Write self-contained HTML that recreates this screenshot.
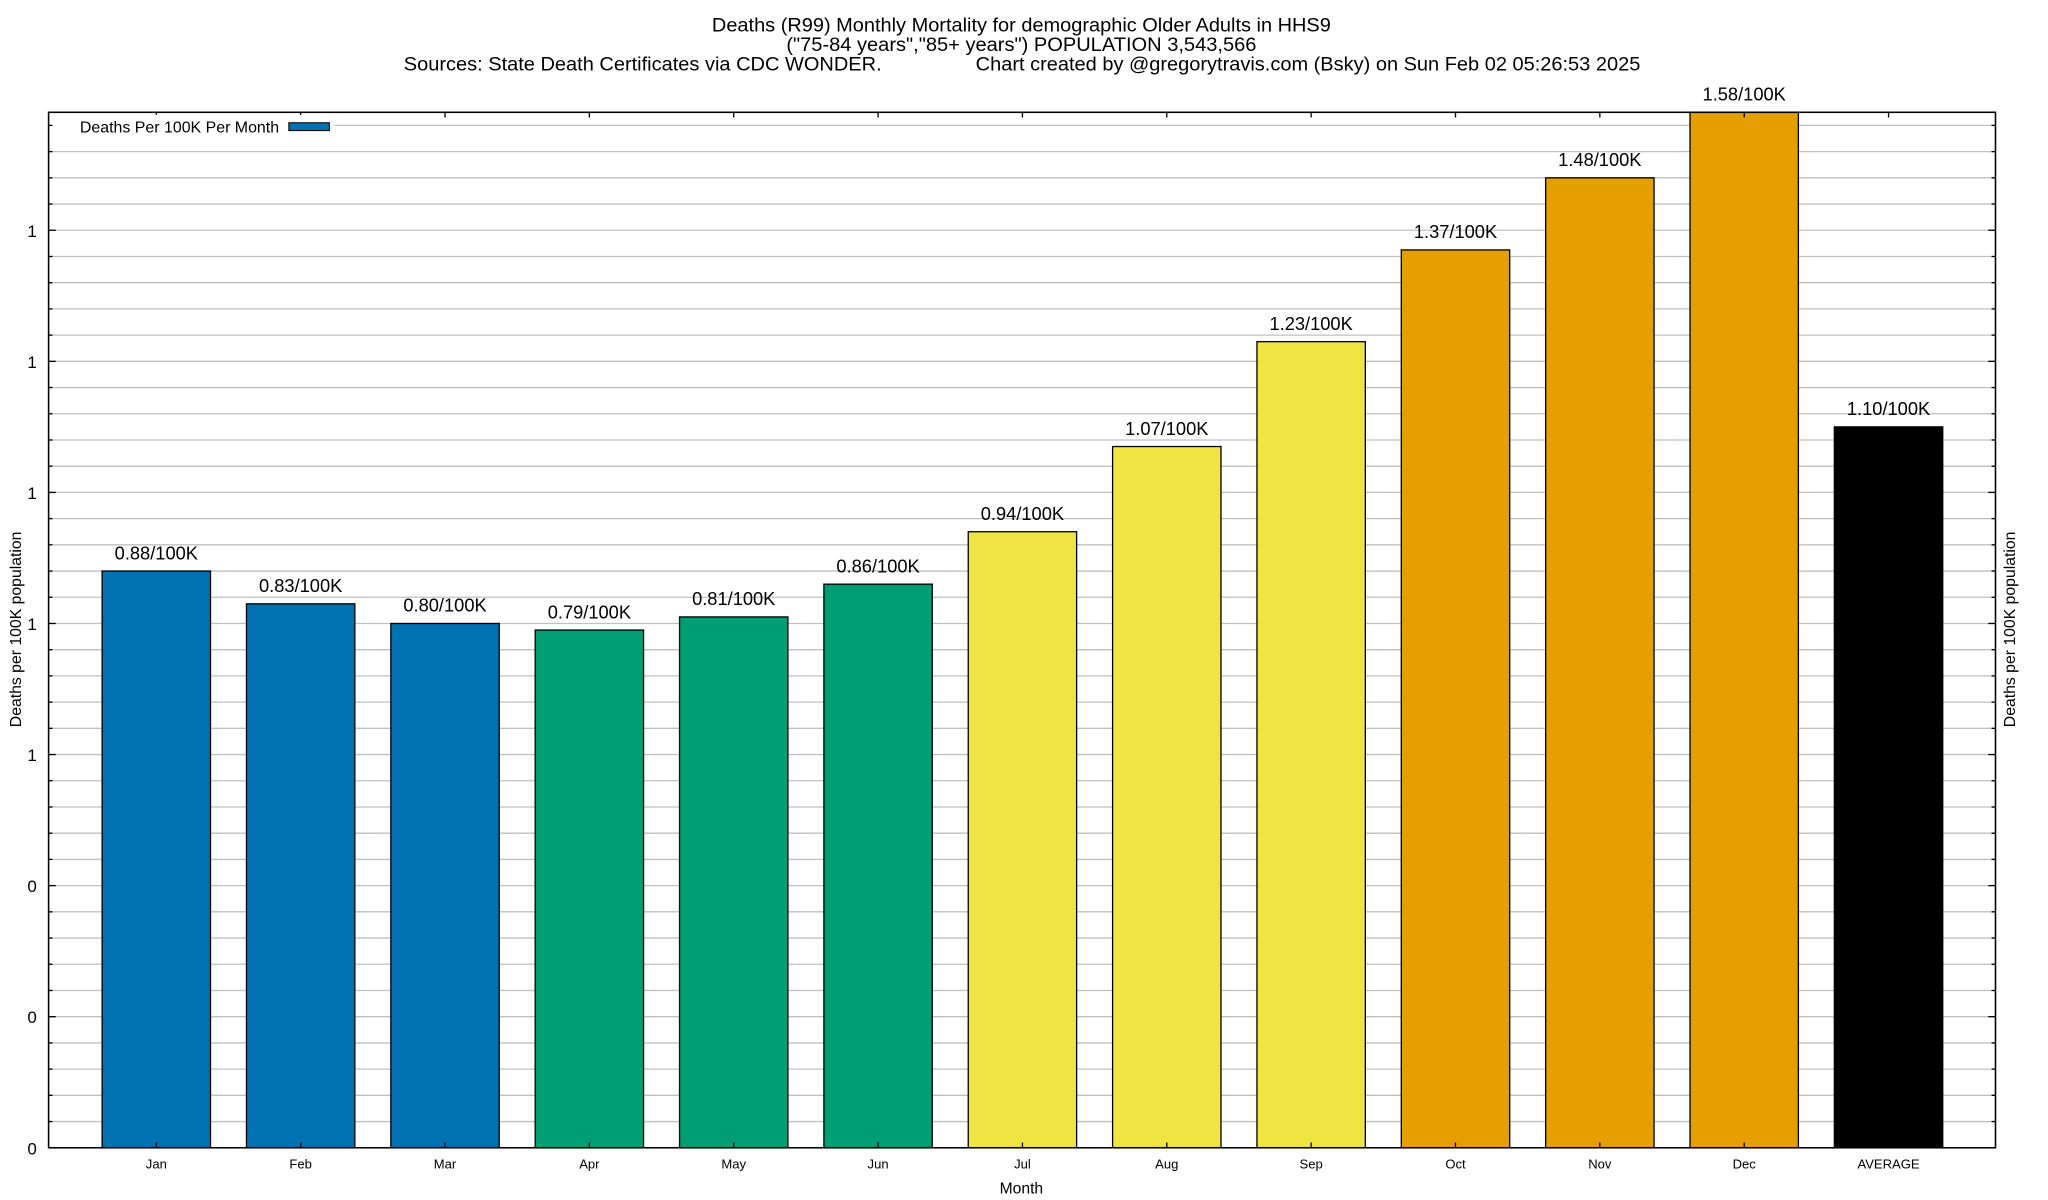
<!DOCTYPE html>
<html>
<head>
<meta charset="utf-8">
<style>
html,body{margin:0;padding:0;background:#fff;}
svg{display:block;}
text{font-family:"Liberation Sans",Arial,sans-serif;fill:#000;}
</style>
</head>
<body>
<svg id="chart" width="2048" height="1200" viewBox="0 0 1568 919" xmlns="http://www.w3.org/2000/svg">
  <rect x="0" y="0" width="1568" height="919" fill="#fff"/>
  <text x="782" y="24" font-size="14.5" text-anchor="middle" textLength="474" lengthAdjust="spacingAndGlyphs">Deaths (R99) Monthly Mortality for demographic Older Adults in HHS9</text>
  <text x="782" y="39" font-size="14.5" text-anchor="middle" textLength="360" lengthAdjust="spacingAndGlyphs">("75-84 years","85+ years") POPULATION 3,543,566</text>
  <text x="309" y="54" font-size="14.5" textLength="366" lengthAdjust="spacingAndGlyphs">Sources: State Death Certificates via CDC WONDER.</text>
  <text x="747" y="54" font-size="14.5" textLength="509" lengthAdjust="spacingAndGlyphs">Chart created by @gregorytravis.com (Bsky) on Sun Feb 02 05:26:53 2025</text>
  <g id="grid"></g>
  <g id="bars"></g>
  <g id="axes"></g>
  <g>
    <rect x="40" y="88" width="216" height="17" fill="#fff"/>
    <text x="61" y="101.5" font-size="12.2">Deaths Per 100K Per Month</text>
    <rect x="221" y="94" width="31" height="6" fill="#0072b2" stroke="#000" stroke-width="0.8"/>
  </g>
  <text x="782" y="914" font-size="12" text-anchor="middle">Month</text>
  <text transform="translate(16,482) rotate(-90)" font-size="12.1" text-anchor="middle">Deaths per 100K population</text>
  <text transform="translate(1543,482) rotate(-90)" font-size="12.1" text-anchor="middle">Deaths per 100K population</text>
</svg>
<script>
const categories = ["Jan","Feb","Mar","Apr","May","Jun","Jul","Aug","Sep","Oct","Nov","Dec","AVERAGE"];
const values = [0.88,0.83,0.80,0.79,0.81,0.86,0.94,1.07,1.23,1.37,1.48,1.58,1.10];
const valueLabels = ["0.88/100K","0.83/100K","0.80/100K","0.79/100K","0.81/100K","0.86/100K","0.94/100K","1.07/100K","1.23/100K","1.37/100K","1.48/100K","1.58/100K","1.10/100K"];
const barColors = ["#0072b2","#0072b2","#0072b2","#009e73","#009e73","#009e73","#f0e442","#f0e442","#f0e442","#e69f00","#e69f00","#e69f00","#000000"];
const yMajorTicks = [0,0.2,0.4,0.6,0.8,1.0,1.2,1.4];
const yTickLabels = ["0","0","0","1","1","1","1","1"];

const NS = "http://www.w3.org/2000/svg";
const L = 37, R = 1528, T = 86, B = 879;
const yMax = 1.58;
function yScale(v){ return B - v / yMax * (B - T); }
const step = 110.55, x0 = 119.5;
function xScale(i){ return x0 + i * step; }
const barW = 83;

function mk(tag, attrs, parent){
  const e = document.createElementNS(NS, tag);
  for (const k in attrs) e.setAttribute(k, attrs[k]);
  parent.appendChild(e);
  return e;
}
const grid = document.getElementById('grid');
const bars = document.getElementById('bars');
const axes = document.getElementById('axes');

for (let k = 1; k * 0.04 < yMax; k++) {
  const y = yScale(k * 0.04);
  const ln = mk('line', {x1:L, x2:R, y1:y, y2:y, stroke:'#c0c0c0', 'stroke-width':1}, grid);
  
  
  const major = Math.abs((k*0.04)/0.2 - Math.round((k*0.04)/0.2)) < 1e-6;
  const len = major ? 5.5 : 3;
  mk('line', {x1:L, x2:L+len, y1:y, y2:y, stroke:'#000', 'stroke-width':1}, axes);
  mk('line', {x1:R, x2:R-len, y1:y, y2:y, stroke:'#000', 'stroke-width':1}, axes);
}

values.forEach((v, i) => {
  const cx = xScale(i);
  const y = yScale(v);
  const r = mk('rect', {x:cx - barW/2, y:y, width:barW, height:B - y, fill:barColors[i], stroke:'#000', 'stroke-width':1}, bars);
  
  
  const t = mk('text', {x:cx, y:y - 9, 'font-size':14, 'text-anchor':'middle'}, bars);
  t.textContent = valueLabels[i];
  
  
  const xl = mk('text', {x:cx, y:895, 'font-size':10, 'text-anchor':'middle'}, axes);
  xl.textContent = categories[i];
  
  
  mk('line', {x1:cx, x2:cx, y1:T, y2:T+4, stroke:'#000', 'stroke-width':1}, axes);
  mk('line', {x1:cx, x2:cx, y1:B, y2:B-4, stroke:'#000', 'stroke-width':1}, axes);
});

yMajorTicks.forEach((v, i) => {
  const t = mk('text', {x:28, y:yScale(v) + 5, 'font-size':13, 'text-anchor':'end'}, axes);
  t.textContent = yTickLabels[i];
  
  
});

const frame = mk('rect', {x:L, y:T, width:R-L, height:B-T, fill:'none', stroke:'#000', 'stroke-width':1.2}, axes);


</script>
</body>
</html>
